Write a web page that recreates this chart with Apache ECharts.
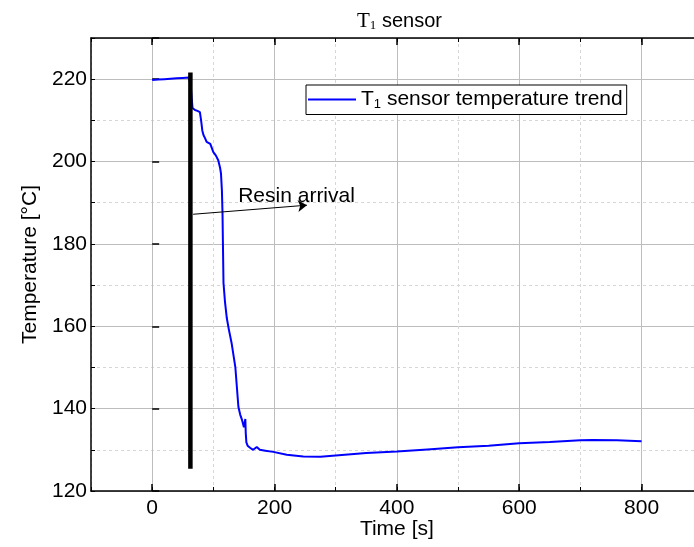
<!DOCTYPE html>
<html>
<head>
<meta charset="utf-8">
<script src="https://cdn.jsdelivr.net/npm/echarts@6/dist/echarts.min.js"></script>
<style>html,body{margin:0;padding:0;background:#fff}#c{width:694px;height:547px}</style>
</head>
<body>
<div id="c"></div>
<script>
// ---- data ----
const timeS = [0, 10, 20, 30, 40, 50, 60, 62, 63, 64, 66, 70, 74, 78, 80, 82, 84, 86, 89, 92, 95, 97, 100, 104, 108, 111, 112.5, 114, 115, 115.6, 116.6, 119, 122, 125, 130, 136, 141, 144, 147, 150, 151.5, 152.3, 153, 154, 156, 160, 165, 168, 171, 176, 185, 198, 220, 247, 275, 300, 350, 400, 450, 500, 550, 600, 650, 700, 720, 760, 800];
const tempC = [219.8, 219.9, 220.0, 220.1, 220.2, 220.3, 220.4, 220.5, 218.5, 216.5, 213.0, 212.5, 212.3, 212.0, 210.0, 207.5, 206.4, 205.8, 204.8, 205.2, 204.3, 203.9, 202.3, 201.5, 200.3, 198.5, 197.1, 193.0, 187.4, 180.9, 170.5, 166.0, 162.0, 159.5, 155.8, 150.0, 140.4, 138.5, 137.2, 135.5, 136.8, 137.5, 134.0, 131.8, 131.0, 130.5, 130.0, 130.4, 130.7, 130.0, 129.8, 129.5, 128.8, 128.4, 128.3, 128.6, 129.2, 129.6, 130.1, 130.6, 131.0, 131.6, 131.9, 132.3, 132.4, 132.3, 132.1];
const resinLineT = [62.5, 62.5];
const resinLineV = [221.6, 125.4];
const arrowStart = [67, 187.2];
const arrowEnd = [253, 189.4];
const arrowLabelAt = [236, 191.6];
const arrowLabel = 'Resin arrival';
const seriesName = 'T1 sensor temperature trend';
const xRange = [-100, 900];
const xMajorRange = [0, 1000];
const yRange = [120, 230];

// ---- chart ----
const FONT = '"Liberation Sans", Arial, sans-serif';
const SERIF = '"Liberation Serif", "Times New Roman", serif';
const FS = 21;
const mainData = timeS.map((t, i) => [t, tempC[i]]);
const resinData = resinLineT.map((t, i) => [t, resinLineV[i]]);

const chart = echarts.init(document.getElementById('c'), null, {renderer: 'canvas'});
const minorSplit = {show: true, lineStyle: {color: '#d6d6d6', type: [3, 3], width: 1}};
const majorSplit = {show: true, lineStyle: {color: '#bdbdbd', type: 'solid', width: 1}};
const blackAxis = {show: true, onZero: false, lineStyle: {color: '#000', width: 1.5}};

chart.setOption({
  animation: false,
  backgroundColor: '#fff',
  textStyle: {fontFamily: FONT},
  title: {
    text: '{t|T}{s|1}{n| sensor}',
    left: 352, top: 5,
    textStyle: {
      fontWeight: 'normal',
      rich: {
        t: {fontFamily: SERIF, fontSize: 21, color: '#000', fontWeight: 'normal'},
        s: {fontFamily: SERIF, fontSize: 13, color: '#000', fontWeight: 'normal', padding: [9, 0, 0, 0]},
        n: {fontFamily: FONT, fontSize: 20, color: '#000', fontWeight: 'normal'}
      }
    }
  },
  legend: {
    data: [{name: seriesName, icon: 'rect'}],
    left: 306, top: 85,
    itemWidth: 48, itemHeight: 2,
    padding: [4, 4, 4, 2],
    borderColor: '#000', borderWidth: 1,
    backgroundColor: '#fff',
    z: 10,
    formatter: () => '{n|T}{s|1}{n| sensor temperature trend}',
    textStyle: {
      rich: {
        n: {fontFamily: FONT, fontSize: FS, color: '#000'},
        s: {fontFamily: FONT, fontSize: 13, color: '#000', padding: [9, 0, 0, 0]}
      }
    }
  },
  grid: [
    {left: 91, top: 38, width: 611.7, height: 453, outerBoundsMode: 'none', containLabel: false},
    {left: 152.2, top: 38, width: 611.7, height: 453, outerBoundsMode: 'none', containLabel: false}
  ],
  xAxis: [
    {gridIndex: 0, type: 'value', min: xRange[0], max: xRange[1], interval: 100, position: 'bottom',
     axisLine: blackAxis,
     axisTick: {show: true, inside: true, length: 4, lineStyle: {color: '#000', width: 1}},
     axisLabel: {show: false},
     splitLine: minorSplit,
     name: 'Time [s]', nameLocation: 'middle', nameGap: 28,
     nameTextStyle: {fontSize: FS, color: '#000', fontFamily: FONT}},
    {gridIndex: 0, type: 'value', min: xRange[0], max: xRange[1], interval: 100, position: 'top',
     axisLine: blackAxis,
     axisTick: {show: true, inside: true, length: 4, lineStyle: {color: '#000', width: 1}},
     axisLabel: {show: false}, splitLine: {show: false}},
    {gridIndex: 1, type: 'value', min: xMajorRange[0], max: xMajorRange[1], interval: 200, position: 'bottom',
     axisLine: {show: false},
     axisTick: {show: true, inside: true, length: 7, lineStyle: {color: '#000', width: 1.5}},
     axisLabel: {show: true, fontSize: FS, color: '#000', margin: 7, fontFamily: FONT,
                 formatter: v => (v <= 800 ? String(v) : '')},
     splitLine: majorSplit},
    {gridIndex: 1, type: 'value', min: xMajorRange[0], max: xMajorRange[1], interval: 200, position: 'top',
     axisLine: {show: false},
     axisTick: {show: true, inside: true, length: 7, lineStyle: {color: '#000', width: 1.5}},
     axisLabel: {show: false}, splitLine: {show: false}}
  ],
  yAxis: [
    {gridIndex: 0, type: 'value', min: yRange[0], max: yRange[1], interval: 10, position: 'left',
     axisLine: blackAxis,
     axisTick: {show: true, inside: true, length: 4, lineStyle: {color: '#000', width: 1}},
     axisLabel: {show: false},
     splitLine: minorSplit},
    {gridIndex: 0, type: 'value', min: yRange[0], max: yRange[1], interval: 20, position: 'left',
     axisLine: {show: false},
     axisTick: {show: true, inside: true, length: 7, lineStyle: {color: '#000', width: 1.5}},
     axisLabel: {show: true, fontSize: FS, color: '#000', margin: 4, fontFamily: FONT,
                 formatter: v => (v % 20 === 0 && v <= 220 ? String(v) : '')},
     splitLine: majorSplit,
     name: 'Temperature [°C]', nameLocation: 'middle', nameGap: 43, nameRotate: 90,
     nameTextStyle: {fontSize: FS, color: '#000', fontFamily: FONT}},
    {gridIndex: 1, type: 'value', min: yRange[0], max: yRange[1], show: false}
  ],
  series: [
    {
      name: seriesName, type: 'line', xAxisIndex: 0, yAxisIndex: 0,
      data: mainData, symbol: 'none', showSymbol: false,
      lineStyle: {color: '#0000ff', width: 2}, itemStyle: {color: '#0000ff'},
      z: 3
    },
    {
      name: 'resin', type: 'line', xAxisIndex: 0, yAxisIndex: 0,
      data: resinData, symbol: 'none',
      lineStyle: {color: '#000', width: 4.5}, itemStyle: {color: '#000'},
      z: 4,
      markLine: {
        silent: true, symbol: ['none', 'arrow'], symbolSize: 9,
        lineStyle: {color: '#000', width: 1, type: 'solid'},
        label: {show: false},
        data: [[{coord: arrowStart}, {coord: arrowEnd}]]
      },
      markPoint: {
        silent: true, symbol: 'rect', symbolSize: 1,
        itemStyle: {color: 'rgba(0,0,0,0)'},
        label: {show: true, position: 'inside', formatter: arrowLabel, color: '#000', fontSize: FS, fontFamily: FONT},
        data: [{coord: arrowLabelAt}]
      }
    }
  ]
});
</script>
</body>
</html>
